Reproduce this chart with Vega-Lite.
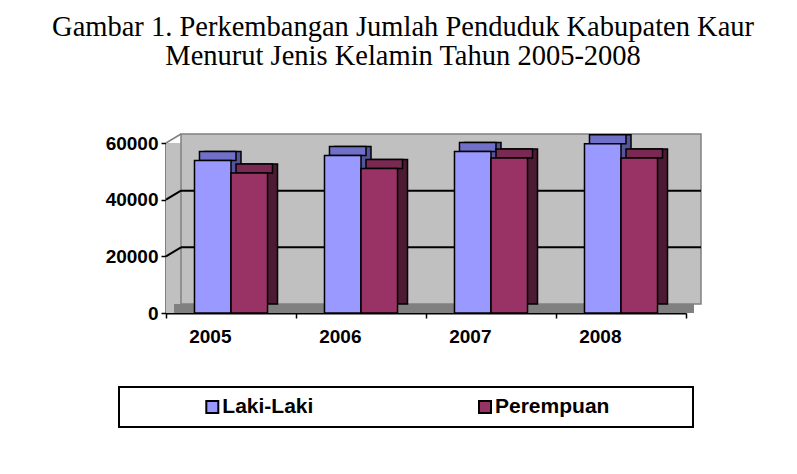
{
  "$schema": "https://vega.github.io/schema/vega-lite/v6.json",
  "background": "white",
  "padding": {"left": 52, "top": 13, "right": 0, "bottom": 0},
  "title": {
    "text": ["Gambar 1. Perkembangan Jumlah Penduduk Kabupaten Kaur", "Menurut Jenis Kelamin Tahun 2005-2008"],
    "font": "Liberation Serif",
    "fontSize": 28.5,
    "lineHeight": 29,
    "fontWeight": "normal",
    "color": "black",
    "anchor": "middle",
    "dx": -24,
    "offset": 62.5
  },
  "spacing": 40,
  "center": true,
  "datasets": {
    "penduduk": [
      {"tahun": "2005", "jenis": "Laki-Laki", "jumlah": 53800},
      {"tahun": "2005", "jenis": "Perempuan", "jumlah": 49400},
      {"tahun": "2006", "jenis": "Laki-Laki", "jumlah": 55600},
      {"tahun": "2006", "jenis": "Perempuan", "jumlah": 51000},
      {"tahun": "2007", "jenis": "Laki-Laki", "jumlah": 57000},
      {"tahun": "2007", "jenis": "Perempuan", "jumlah": 54700},
      {"tahun": "2008", "jenis": "Laki-Laki", "jumlah": 59700},
      {"tahun": "2008", "jenis": "Perempuan", "jumlah": 54700}
    ],
    "grid": [{"g": 20000}, {"g": 40000}],
    "one": [{"k": 1}],
    "legenda": [{"jenis": "Laki-Laki"}, {"jenis": "Perempuan"}]
  },
  "vconcat": [
    {
      "width": 520,
      "height": 170,
      "view": {"stroke": null},
      "resolve": {"scale": {"xOffset": "independent"}},
      "layer": [
        {
          "data": {"name": "one"},
          "mark": {"type": "rect", "fill": "#c0c0c0", "x2Offset": 15},
          "encoding": {
            "x": {"value": 0},
            "x2": {"value": 0},
            "y": {"datum": 60000, "type": "quantitative", "title": null, "scale": {"domain": [0, 60000], "nice": false}},
            "y2": {"datum": 0}
          }
        },
        {
          "data": {"name": "one"},
          "mark": {"type": "rect", "fill": "#c0c0c0", "stroke": "#808080", "strokeWidth": 1.5, "xOffset": 15, "x2Offset": 15, "yOffset": -9, "y2Offset": -9},
          "encoding": {
            "x": {"value": 0},
            "x2": {"value": "width"},
            "y": {"datum": 60000, "type": "quantitative", "title": null},
            "y2": {"datum": 0}
          }
        },
        {
          "data": {"name": "one"},
          "mark": {"type": "rule", "stroke": "#808080", "strokeWidth": 1.5, "x2Offset": 15, "y2Offset": -9},
          "encoding": {
            "x": {"value": 0},
            "x2": {"value": 0},
            "y": {"datum": 60000, "type": "quantitative", "title": null},
            "y2": {"datum": 60000}
          }
        },
        {
          "data": {"name": "one"},
          "mark": {"type": "rect", "fill": "#808080", "xOffset": 8, "x2Offset": 8, "yOffset": -9},
          "encoding": {
            "x": {"value": 0},
            "x2": {"value": "width"},
            "y": {"datum": 0, "type": "quantitative", "title": null},
            "y2": {"datum": 0}
          }
        },
        {
          "data": {"name": "grid"},
          "mark": {"type": "rule", "stroke": "black", "strokeWidth": 2, "xOffset": 15, "x2Offset": 15, "yOffset": -9, "y2Offset": -9},
          "encoding": {
            "x": {"value": 0},
            "x2": {"value": "width"},
            "y": {"field": "g", "type": "quantitative", "title": null},
            "y2": {"field": "g"}
          }
        },
        {
          "data": {"name": "grid"},
          "mark": {"type": "rule", "stroke": "black", "strokeWidth": 2, "x2Offset": 15, "y2Offset": -9},
          "encoding": {
            "x": {"value": 0},
            "x2": {"value": 0},
            "y": {"field": "g", "type": "quantitative", "title": null},
            "y2": {"field": "g"}
          }
        },
        {
          "data": {"name": "penduduk"},
          "mark": {"type": "bar", "stroke": "black", "strokeWidth": 1.5, "yOffset": -9, "y2Offset": -9},
          "encoding": {
            "x": {"field": "tahun", "type": "nominal", "title": null, "scale": {"type": "band", "paddingInner": 0, "paddingOuter": 0}},
            "xOffset": {"field": "jenis", "type": "nominal", "scale": {"type": "band", "range": [10, 140], "paddingInner": 0, "paddingOuter": 0.78}},
            "y": {"field": "jumlah", "type": "quantitative", "title": null},
            "fill": {"condition": {"test": "datum.jenis === 'Laki-Laki'", "value": "#55559a"}, "value": "#4d1a33"}
          }
        },
        {
          "data": {"name": "penduduk"},
          "mark": {"type": "bar", "stroke": "black", "strokeWidth": 1.5, "yOffset": -9},
          "encoding": {
            "x": {"field": "tahun", "type": "nominal", "title": null},
            "xOffset": {"field": "jenis", "type": "nominal", "scale": {"type": "band", "range": [5, 135], "paddingInner": 0, "paddingOuter": 0.78}},
            "y": {"field": "jumlah", "type": "quantitative", "title": null},
            "y2": {"field": "jumlah"},
            "fill": {"condition": {"test": "datum.jenis === 'Laki-Laki'", "value": "#7070c8"}, "value": "#7a2952"}
          }
        },
        {
          "data": {"name": "penduduk"},
          "mark": {"type": "bar", "stroke": "black", "strokeWidth": 1.5},
          "encoding": {
            "x": {"field": "tahun", "type": "nominal", "title": null, "axis": {"labelAngle": 0, "tickBand": "extent", "labelPadding": 18}},
            "xOffset": {"field": "jenis", "type": "nominal", "scale": {"type": "band", "range": [0, 130], "paddingInner": 0, "paddingOuter": 0.78}},
            "y": {"field": "jumlah", "type": "quantitative", "title": null, "axis": {"values": [0, 20000, 40000, 60000], "format": "d", "labelPadding": 3}},
            "fill": {"condition": {"test": "datum.jenis === 'Laki-Laki'", "value": "#9999ff"}, "value": "#993366"}
          }
        }
      ]
    },
    {
      "width": 574,
      "height": 40,
      "view": {"stroke": "black", "strokeWidth": 2},
      "data": {"name": "legenda"},
      "encoding": {
        "x": {"field": "jenis", "type": "nominal", "title": null, "axis": null, "bandPosition": 0.3264, "scale": {"type": "band", "paddingInner": 0, "paddingOuter": 0.0524}},
        "y": {"datum": 0, "type": "quantitative", "scale": {"domain": [-1, 1]}, "axis": {"orient": "right", "values": [0], "labels": false, "domain": false, "tickSize": 55, "tickOpacity": 0, "title": null}}
      },
      "layer": [
        {
          "mark": {"type": "point", "shape": "square", "size": 144, "filled": true, "opacity": 1, "stroke": "black", "strokeWidth": 2, "xOffset": -10},
          "encoding": {
            "fill": {"field": "jenis", "type": "nominal", "legend": null, "scale": {"domain": ["Laki-Laki", "Perempuan"], "range": ["#9999ff", "#993366"]}}
          }
        },
        {
          "mark": {"type": "text", "align": "left", "baseline": "middle", "font": "Liberation Sans", "fontWeight": "bold", "fontSize": 21, "color": "black"},
          "encoding": {
            "text": {"field": "jenis"}
          }
        }
      ]
    }
  ],
  "config": {
    "view": {"stroke": null},
    "axis": {
      "labelFont": "Liberation Sans",
      "labelFontWeight": "bold",
      "labelFontSize": 19,
      "labelColor": "black",
      "domainColor": "black",
      "domainWidth": 2,
      "tickColor": "black",
      "tickWidth": 1.5,
      "tickSize": 5,
      "grid": false,
      "zindex": 1
    }
  }
}
